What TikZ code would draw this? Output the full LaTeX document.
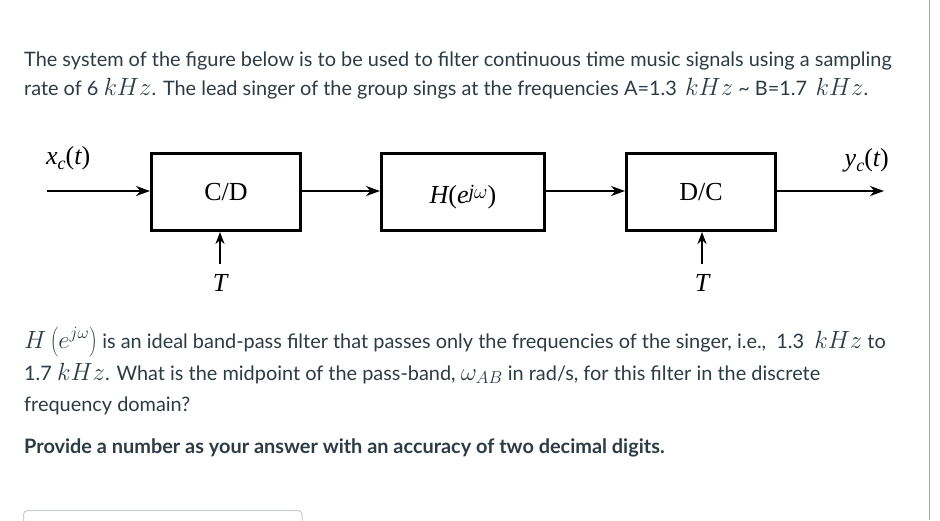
\documentclass[tikz,border=0pt]{standalone}
\usepackage{fontspec}
\setmainfont{Lato}
\newfontfamily\dfont{Liberation Serif}
\usetikzlibrary{arrows.meta}
\definecolor{txt}{HTML}{2D3B45}
\definecolor{bord}{HTML}{C7CDD1}
\newcommand{\mq}[1]{{\fontsize{23.5}{23}\selectfont$#1$}}
\tikzset{
  para/.style={anchor=base west, inner sep=0pt, font=\fontsize{19.9}{23}\selectfont, text=txt},
  blk/.style={draw=black, line width=3pt, minimum width=149pt, minimum height=77pt, anchor=north west, inner sep=0pt},
  sig/.style={line width=2.5pt, -{Stealth[length=14pt,width=10pt]}},
  lab/.style={font=\dfont\fontsize{26}{28}\selectfont, inner sep=0pt}
}
\begin{document}
\begin{tikzpicture}[x=1pt,y=-1pt]
\useasboundingbox (0,0) rectangle (940,520);
\fill[white] (0,0) rectangle (940,520);
\draw[line width=1pt, black!35] (929,0) -- (929,520);
% top paragraph
\node[para] (p1) at (24,66) {The system of the figure below is to be used to filter continuous time music signals using a sampling};
\node[para] (p2) at (24,95) {rate of 6 \mq{kHz}. The lead singer of the group sings at the frequencies A=1.3\ \,\mq{kHz} {\textasciitilde} B=1.7\ \,\mq{kHz}.};
% blocks
\node[blk] (cd) at (150,152) {};
\node[lab] at (cd.center) {C/D};
\node[blk, minimum width=163pt] (h) at (380,152) {};
\node[lab] at ([yshift=-5pt]h.center) {\itshape H\upshape(\itshape e\raisebox{5pt}{\fontsize{20}{20}\selectfont j$\omega$}\upshape)};
\node[blk] (dc) at (625,152) {};
\node[lab] at (dc.center) {D/C};
% signals
\coordinate (in) at (47,191);
\coordinate (out) at (884,191);
\draw[sig] (in) -- (cd.west |- in);
\draw[sig] (cd.east |- in) -- (h.west |- in);
\draw[sig] (h.east |- in) -- (dc.west |- in);
\draw[sig] (dc.east |- in) -- (out);
\node[lab, anchor=base west] (xc) at (46,164) {\itshape x\raisebox{-5pt}{\fontsize{18}{18}\selectfont c}\upshape(\itshape t\upshape)};
\node[lab, anchor=base east] (yc) at (889,166) {\itshape y\raisebox{-5pt}{\fontsize{18}{18}\selectfont c}\upshape(\itshape t\upshape)};
% sampling period inputs
\node[lab, anchor=base] (t1) at (220,291) {\itshape T};
\node[lab, anchor=base] (t2) at (702,291) {\itshape T};
\draw[sig, -{Stealth[length=12pt,width=9pt]}] (t1.north |- 0,264) -- (cd.south -| t1.north);
\draw[sig, -{Stealth[length=12pt,width=9pt]}] (t2.north |- 0,264) -- (dc.south -| t2.north);
% bottom paragraph
\node[para] (q1) at (24,348) {\mq{H\left(e^{j\omega}\right)} is an ideal band-pass filter that passes only the frequencies of the singer, i.e.,\ \ 1.3\ \ \mq{kHz} to};
\node[para] (q2) at (24,380) {1.7 \mq{kHz}. What is the midpoint of the pass-band, \mq{\omega_{AB}} in rad/s, for this filter in the discrete};
\node[para] (q3) at (24,411) {frequency domain?};
\node[para, font=\bfseries\fontsize{19.9}{23}\selectfont] (q4) at (24,453) {Provide a number as your answer with an accuracy of two decimal digits.};
% answer box
\draw[bord, line width=1pt, rounded corners=4pt] (23.5,530) -- (23.5,510.5) -- (302,510.5) -- (302,530);
\end{tikzpicture}
\end{document}
